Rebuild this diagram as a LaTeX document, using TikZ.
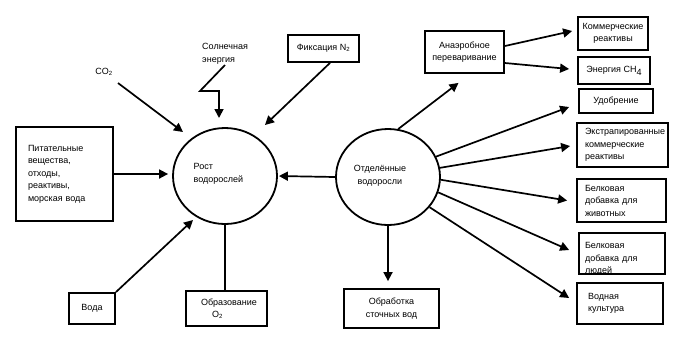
\documentclass[tikz,border=0pt]{standalone}
\usepackage{fontspec}
\setmainfont{Liberation Sans}
\usetikzlibrary{arrows.meta,shapes.geometric}
\newcommand\dgfont{\fontsize{9}{12.5}\selectfont}
\begin{document}
\begin{tikzpicture}[x=1pt,y=-1pt,
  box/.style={draw,line width=1.8pt,inner sep=0pt,font=\dgfont},
  circ/.style={draw,ellipse,line width=1.8pt,inner sep=0pt,minimum width=104pt,minimum height=96pt},
  txt/.style={inner sep=0pt,font=\dgfont},
  arr/.style={line width=1.7pt,-{Triangle[length=9pt,width=9pt]}},
  plain/.style={line width=1.7pt}]
\useasboundingbox (0,0) rectangle (676,341);
% left side
\node[box,minimum width=97pt,minimum height=94pt,text width=73pt,align=left] (nut) at (64.5,174) {Питательные\\вещества,\\отходы,\\реактивы,\\морская вода};
\node[box,minimum width=46pt,minimum height=31pt] (voda) at (92,308.5) {Вода};
\node[box,minimum width=81pt,minimum height=35pt,text width=51pt,align=left] (o2) at (226.5,308.5) {Образование\\\hspace*{11pt}O\textsubscript{2}};
\node[box,minimum width=71pt,minimum height=27pt] (fix) at (323.5,48.5) {Фиксация N\textsubscript{2}};
\node[txt] (co2) at (104,72) {CO\textsubscript{2}};
\node[txt,anchor=west,align=left] (sun) at (202,54) {Солнечная\\энергия};
% circles
\node[circ] (c1) at (225,176) {};
\node[txt,align=left] (c1t) at (218.5,174) {Рост\\водорослей};
\node[circ] (c2) at (388,177) {};
\node[txt,align=center] (c2t) at (380,176) {Отделённые\\водоросли};
% right side
\node[box,minimum width=79pt,minimum height=42pt,align=center] (anae) at (464.5,52) {Анаэробное\\переваривание};
\node[box,minimum width=70pt,minimum height=33pt,align=center] (kom) at (613,33.5) {Коммерческие\\реактивы};
\node[box,minimum width=72pt,minimum height=27pt] (ch4) at (614,70.5) {Энергия CH\raisebox{-3pt}{4}};
\node[box,minimum width=74pt,minimum height=24pt] (udob) at (616,101) {Удобрение};
\node[box,minimum width=91pt,minimum height=44pt,text width=75pt,align=left] (extr) at (622.5,145) {Экстрапированные\\коммерческие\\реактивы};
\node[box,minimum width=89pt,minimum height=43pt,text width=73pt,align=left] (ziv) at (621.5,200.5) {Белковая\\добавка для\\животных};
\node[box,minimum width=86pt,minimum height=41pt] (lud) at (622,253.5) {};
\node[txt,text width=74pt,align=left] (ludt) at (622,259) {Белковая\\добавка для\\людей};
\node[box,minimum width=86pt,minimum height=41pt,text width=64pt,align=left] (vodn) at (620,303.5) {Водная\\культура};
\node[box,minimum width=95pt,minimum height=39pt,align=center] (obr) at (391.5,308.5) {Обработка\\сточных вод};
% connectors
\coordinate (co2s) at (118,83);
\draw[arr] (co2s) -- ([xshift=-42pt,yshift=44pt]c1.center);
\coordinate (sa) at (225,65);
\coordinate (sb) at (200,91);
\coordinate (sc) at (219,91);
\draw[arr] (sa) -- (sb) -- (sc) -- ([xshift=-6pt,yshift=58pt]c1.center);
\draw[arr] ([xshift=6.5pt]fix.south) -- ([xshift=40pt,yshift=51pt]c1.center);
\draw[arr,shorten >=4pt] (nut.east) -- (nut.east -| c1.west);
\draw[arr] (voda.north east) -- ([xshift=-32pt,yshift=-44pt]c1.center);
\draw[plain] (c1.south) -- (c1.south |- o2.north);
\draw[arr,shorten >=1pt] (c2.west) -- (c1.east);
\draw[arr] (c2.78) -- ([xshift=-6pt,yshift=-9pt]anae.south);
\draw[arr,shorten >=7pt] (c2.south) -- (c2.south |- obr.north);
\draw[arr] ([yshift=6pt]anae.east) -- ([xshift=-5pt,yshift=2.5pt]kom.west);
\draw[arr] ([yshift=-11pt]anae.east) -- ([xshift=-8pt,yshift=1.5pt]ch4.west);
\draw[arr] (c2.23) -- ([xshift=-9pt,yshift=-6pt]udob.west);
\draw[arr] (c2.10) -- ([xshift=-6pt,yshift=-1pt]extr.west);
\draw[arr] (c2.357) -- ([xshift=-9pt]ziv.west);
\draw[arr] (c2.343) -- ([xshift=-9pt,yshift=3.5pt]lud.west);
\draw[arr] (c2.324) -- ([xshift=-7pt,yshift=5.5pt]vodn.west);
\end{tikzpicture}
\end{document}
